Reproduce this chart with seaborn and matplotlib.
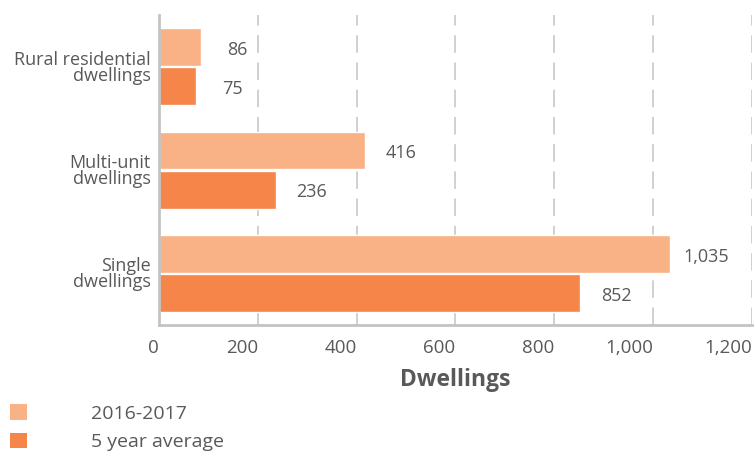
import matplotlib
matplotlib.use("Agg")
import matplotlib.pyplot as plt
import seaborn as sns
import pandas as pd
from matplotlib.patches import Patch

categories = ["Rural residential\ndwellings", "Multi-unit\ndwellings", "Single\ndwellings"]
series_names = ["2016-2017", "5 year average"]
values_2016_2017 = [86, 416, 1035]
values_5yr_avg = [75, 236, 852]
x_ticks = [0, 200, 400, 600, 800, 1000, 1200]
x_tick_labels = ["0", "200", "400", "600", "800", "1,000", "1,200"]
colors = ["#F9B186", "#F58549"]

df = pd.DataFrame({
    "category": categories * 2,
    "series": [series_names[0]] * 3 + [series_names[1]] * 3,
    "value": values_2016_2017 + values_5yr_avg,
})

sns.set_theme(style="white")
plt.rcParams["font.family"] = ["Open Sans", "DejaVu Sans"]
text_color = "#595959"

fig = plt.figure(figsize=(7.55, 4.54), dpi=100)
ax = fig.add_axes([0.2106, 0.284, 0.7854, 0.683])

sns.barplot(data=df, y="category", x="value", hue="series", order=categories,
            hue_order=series_names, palette=colors, orient="h",
            width=0.76, gap=0.04, saturation=1, legend=False, ax=ax)

ax.set_xlim(0, 1200)
ax.set_ylim(2.5, -0.5)
ax.set_xticks(x_ticks)
ax.set_xticklabels(x_tick_labels, fontsize=13.5, color=text_color, ha="right")
for lbl in ax.get_yticklabels():
    lbl.set_fontsize(13)
    lbl.set_color(text_color)
    lbl.set_linespacing(0.85)
    lbl.set_ha("right")
ax.set_ylabel("")
ax.set_xlabel("Dwellings", fontsize=16.5, fontweight="bold", color=text_color, labelpad=8)

ax.xaxis.grid(True, color="#d0d0d0", linestyle=(0, (9, 5)), linewidth=1.4)
ax.set_axisbelow(True)
for side in ["top", "right"]:
    ax.spines[side].set_visible(False)
for side in ["left", "bottom"]:
    ax.spines[side].set_color("#c4c4c4")
    ax.spines[side].set_linewidth(2)
ax.tick_params(axis="x", direction="in", length=8, width=1.2, color="#c4c4c4", pad=10)
ax.tick_params(axis="y", length=0, pad=6)

for container in ax.containers:
    for bar in container:
        w = bar.get_width()
        y = bar.get_y() + bar.get_height() / 2
        ax.annotate(f"{int(w):,}", xy=(w, y), xytext=(26, -2), textcoords="offset points",
                    ha="center", va="center", fontsize=13, color=text_color)

handles = [Patch(facecolor=c, edgecolor="none") for c in colors]
fig.legend(handles, series_names, loc="lower left",
           bbox_to_anchor=(10 / 755, 3 / 454), borderpad=0, borderaxespad=0,
           frameon=False, fontsize=14, labelcolor=text_color,
           handlelength=0.85, handleheight=0.85, handletextpad=3.3, labelspacing=0.5)

fig.savefig("out.png", dpi=100)
